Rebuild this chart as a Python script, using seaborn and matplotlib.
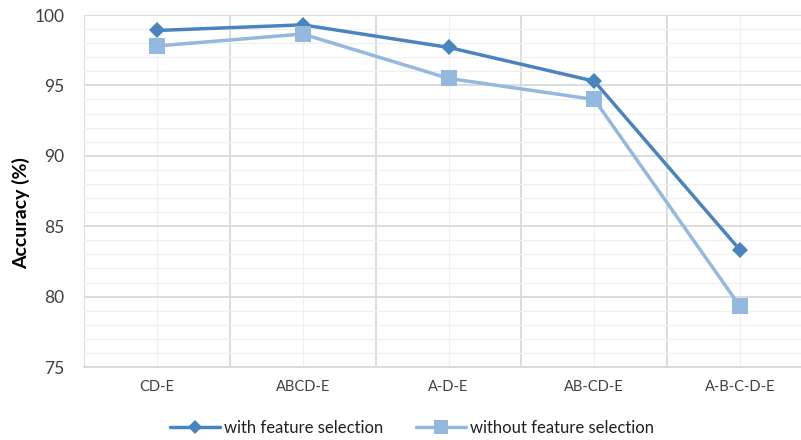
import matplotlib
matplotlib.use("Agg")
import matplotlib.pyplot as plt
from matplotlib.ticker import MultipleLocator, FixedLocator
from matplotlib.lines import Line2D
import seaborn as sns
import pandas as pd

categories = ["CD-E", "ABCD-E", "A-D-E", "AB-CD-E", "A-B-C-D-E"]
with_fs = [98.9, 99.3, 97.7, 95.3, 83.3]
without_fs = [97.8, 98.65, 95.5, 94.0, 79.3]
series_names = ["with feature selection", "without feature selection"]
colors = ["#4a84be", "#95b8df"]

df = pd.DataFrame({
    "cat": categories * 2,
    "acc": with_fs + without_fs,
    "series": [series_names[0]] * len(categories) + [series_names[1]] * len(categories),
})

sns.set_theme(style="white")
plt.rcParams["font.family"] = ["Lato", "DejaVu Sans"]

fig = plt.figure(figsize=(8.01, 4.40), dpi=100)
ax = fig.add_axes([84 / 801, 1 - 367 / 440, (813 - 84) / 801, (367 - 15) / 440])

sns.lineplot(data=df, x="cat", y="acc", hue="series", style="series",
             palette=dict(zip(series_names, colors)),
             markers={series_names[0]: "D", series_names[1]: "s"},
             dashes=False, sort=False, linewidth=2.5, ax=ax, legend=False,
             markeredgewidth=0)
for ln, ms in zip(ax.get_lines(), [8, 12]):
    ln.set_markersize(ms)

ax.set_xlim(-0.5, 4.5)
ax.set_ylim(75, 100)
ax.yaxis.set_major_locator(MultipleLocator(5))
ax.yaxis.set_minor_locator(MultipleLocator(1))
ax.xaxis.set_major_locator(FixedLocator(range(len(categories))))
ax.set_xticklabels(categories)
ax.xaxis.set_minor_locator(FixedLocator([i - 0.5 for i in range(len(categories) + 1)]))

ax.grid(True, which="major", axis="y", color="#d9d9d9", linewidth=1.3)
ax.grid(True, which="minor", axis="y", color="#f0f0f0", linewidth=0.9)
ax.grid(True, which="minor", axis="x", color="#d9d9d9", linewidth=1.3)
ax.grid(True, which="major", axis="x", color="#f0f0f0", linewidth=0.9)
ax.set_axisbelow(True)
for s in ["top", "right", "left"]:
    ax.spines[s].set_visible(False)
ax.spines["bottom"].set_color("#d9d9d9")
ax.spines["bottom"].set_linewidth(1.3)

ax.tick_params(axis="both", which="both", length=0)
ax.tick_params(axis="y", labelsize=12.5, labelcolor="#404040", pad=14)
ax.tick_params(axis="x", labelsize=10.5, labelcolor="#404040", pad=9)
ax.set_xlabel("")
ax.set_ylabel("Accuracy (%)", fontsize=14, fontweight="bold", color="black")
ax.yaxis.set_label_coords((30 - 84) / 729, (367 - 213) / 352)

handles = [Line2D([], [], color=colors[0], marker="D", markersize=7, linewidth=2.5, markeredgewidth=0),
           Line2D([], [], color=colors[1], marker="s", markersize=10, linewidth=2.5, markeredgewidth=0)]
fig.legend(handles, series_names, loc="center", bbox_to_anchor=(412 / 801, 1 - 428 / 440),
           ncol=2, frameon=False, fontsize=12, handlelength=3.0, handletextpad=0.2,
           columnspacing=2.0, labelcolor="#202020")

fig.savefig("out.png", dpi=100)
